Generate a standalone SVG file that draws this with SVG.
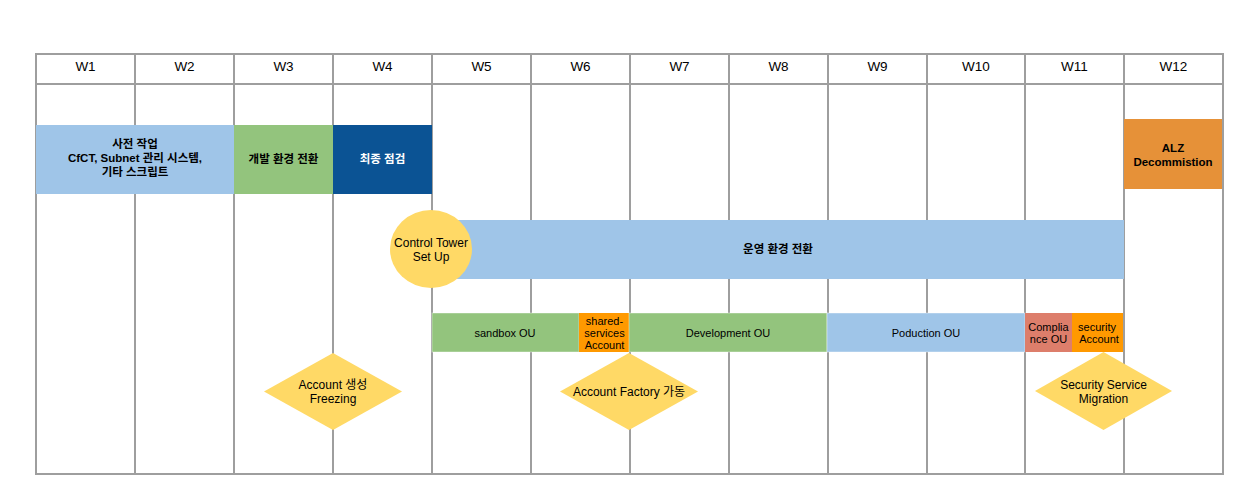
<svg xmlns="http://www.w3.org/2000/svg" width="1244" height="494" viewBox="0 0 1244 494">
<style>
.grid{stroke:#9e9e9e;stroke-width:2;fill:none}
.hd{font-family:"Liberation Sans",Arial,sans-serif;font-size:13.5px;fill:#000;text-anchor:middle}
.bt{font-family:"Liberation Sans","Noto Sans CJK KR",sans-serif;font-size:11.5px;font-weight:bold;fill:#000;text-anchor:middle}
.nt{font-family:"Liberation Sans","Noto Sans CJK KR",sans-serif;font-size:12px;fill:#000;text-anchor:middle}
.st{font-family:"Liberation Sans","Noto Sans CJK KR",sans-serif;font-size:11px;fill:#000;text-anchor:middle}
.bx{stroke:#ffffff;stroke-opacity:0.4;stroke-width:1}
.yel{fill:#ffd966}
</style>
<rect width="1244" height="494" fill="#ffffff"/>
<g id="grid">
<rect class="grid" x="36" y="54" width="1187" height="420"/>
<line class="grid" x1="36" y1="84" x2="1223" y2="84"/>
<line class="grid" x1="135" y1="54" x2="135" y2="474"/>
<line class="grid" x1="234" y1="54" x2="234" y2="474"/>
<line class="grid" x1="333" y1="54" x2="333" y2="474"/>
<line class="grid" x1="432" y1="54" x2="432" y2="474"/>
<line class="grid" x1="531" y1="54" x2="531" y2="474"/>
<line class="grid" x1="630" y1="54" x2="630" y2="474"/>
<line class="grid" x1="729" y1="54" x2="729" y2="474"/>
<line class="grid" x1="828" y1="54" x2="828" y2="474"/>
<line class="grid" x1="927" y1="54" x2="927" y2="474"/>
<line class="grid" x1="1025" y1="54" x2="1025" y2="474"/>
<line class="grid" x1="1124" y1="54" x2="1124" y2="474"/>
</g>
<g id="headers">
<text class="hd" x="85.5" y="71">W1</text>
<text class="hd" x="184.5" y="71">W2</text>
<text class="hd" x="283.5" y="71">W3</text>
<text class="hd" x="382.5" y="71">W4</text>
<text class="hd" x="481.5" y="71">W5</text>
<text class="hd" x="580.5" y="71">W6</text>
<text class="hd" x="679.5" y="71">W7</text>
<text class="hd" x="778.5" y="71">W8</text>
<text class="hd" x="877.5" y="71">W9</text>
<text class="hd" x="976" y="71">W10</text>
<text class="hd" x="1074.5" y="71">W11</text>
<text class="hd" x="1173.5" y="71">W12</text>
</g>
<g id="prep">
<rect x="36" y="125" width="198" height="69" fill="#9fc5e8"/>
<text class="bt" x="135" y="148">사전 작업</text>
<text class="bt" x="135" y="162">CfCT, Subnet 관리 시스템,</text>
<text class="bt" x="135" y="176">기타 스크립트</text>
</g>
<g id="dev-env">
<rect x="234" y="125" width="99" height="69" fill="#93c47d"/>
<text class="bt" x="283.5" y="163">개발 환경 전환</text>
</g>
<g id="final-check">
<rect x="333" y="125" width="99" height="69" fill="#0b5394"/>
<text class="bt" x="382.5" y="163" style="fill:#ffffff">최종 점검</text>
</g>
<g id="alz">
<rect x="1124" y="119" width="98" height="70" fill="#e69138"/>
<text class="bt" x="1173" y="152">ALZ</text>
<text class="bt" x="1173" y="166">Decommistion</text>
</g>
<g id="ops-env">
<rect x="432" y="220" width="692" height="59" fill="#9fc5e8"/>
<text class="bt" x="778" y="253">운영 환경 전환</text>
</g>
<g id="control-tower">
<ellipse class="yel" cx="431" cy="249" rx="41" ry="39"/>
<text class="nt" x="431" y="247">Control Tower</text>
<text class="nt" x="431" y="261">Set Up</text>
</g>
<g id="sandbox">
<rect class="bx" x="432" y="313" width="147" height="39" fill="#93c47d"/>
<text class="st" x="505" y="337">sandbox OU</text>
</g>
<g id="shared-services">
<rect x="579" y="313" width="50" height="39" fill="#ff9900"/>
<text class="st" x="604.5" y="325">shared-</text>
<text class="st" x="604.5" y="337">services</text>
<text class="st" x="604.5" y="349">Account</text>
</g>
<g id="development">
<rect class="bx" x="629" y="313" width="198" height="39" fill="#93c47d"/>
<text class="st" x="728" y="337">Development OU</text>
</g>
<g id="production">
<rect class="bx" x="827" y="313" width="198" height="39" fill="#9fc5e8"/>
<text class="st" x="926" y="337">Poduction OU</text>
</g>
<g id="compliance">
<rect x="1025" y="313" width="47" height="39" fill="#dd7e6b"/>
<text class="st" x="1048.5" y="331">Complia</text>
<text class="st" x="1048.5" y="343">nce OU</text>
</g>
<g id="security-account">
<rect x="1072" y="313" width="51" height="39" fill="#ff9900"/>
<text class="st" x="1097" y="331">security</text>
<text class="st" x="1099" y="343">Account</text>
</g>
<g id="freeze">
<polygon class="yel" points="333,353 402,391.5 333,430 264,391.5"/>
<text class="nt" x="333" y="389">Account 생성</text>
<text class="nt" x="333" y="403">Freezing</text>
</g>
<g id="account-factory">
<polygon class="yel" points="629,353 698,391.5 629,430 560,391.5"/>
<text class="nt" x="629" y="396">Account Factory 가동</text>
</g>
<g id="security-migration">
<polygon class="yel" points="1103.5,352 1172,391 1103.5,430 1035,391"/>
<text class="nt" x="1103.5" y="389">Security Service</text>
<text class="nt" x="1103.5" y="403">Migration</text>
</g>
<g id="connectors"></g>
</svg>
